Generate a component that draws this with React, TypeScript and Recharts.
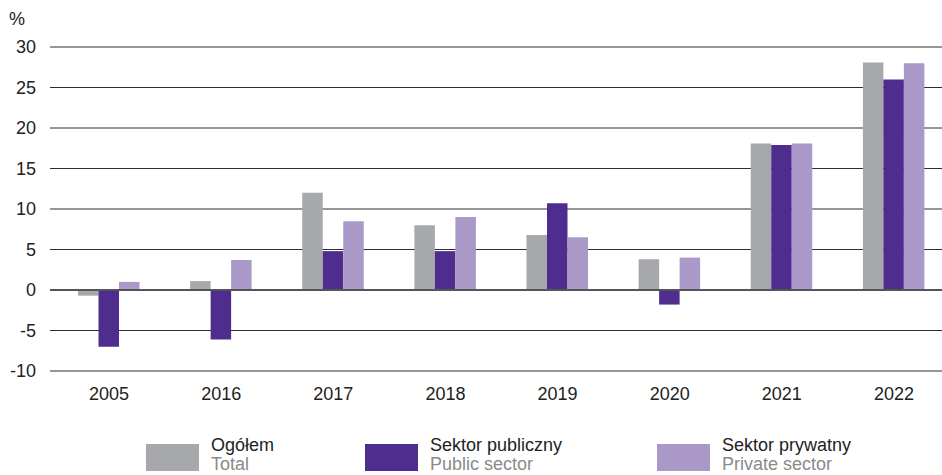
import { BarChart, Bar, XAxis, YAxis, CartesianGrid, ReferenceLine } from 'recharts';

const years = ['2005', '2016', '2017', '2018', '2019', '2020', '2021', '2022'];
const total = [-0.7, 1.1, 12.0, 8.0, 6.8, 3.8, 18.1, 28.1];
const publicSector = [-7.0, -6.1, 4.8, 4.8, 10.7, -1.8, 17.9, 26.0];
const privateSector = [1.0, 3.7, 8.5, 9.0, 6.5, 4.0, 18.1, 28.0];
const yTicks = [-10, -5, 0, 5, 10, 15, 20, 25, 30];

const legendItems = [
  { pl: 'Ogółem', en: 'Total', color: '#a7a8ab', left: 146 },
  { pl: 'Sektor publiczny', en: 'Public sector', color: '#4f2d8f', left: 365 },
  { pl: 'Sektor prywatny', en: 'Private sector', color: '#a998c8', left: 657 },
];

const data = years.map((y, i) => ({
  year: y,
  total: total[i],
  pub: publicSector[i],
  priv: privateSector[i],
}));

const font = '"Liberation Sans", Arial, sans-serif';
const tickStyle = { fontSize: 18, fill: '#222', fontFamily: font };

export default function App() {
  return (
    <div
      style={{
        position: 'absolute',
        left: 0,
        top: 0,
        width: 942,
        height: 475,
        overflow: 'hidden',
        background: '#fff',
        fontFamily: font,
      }}
    >
      <div style={{ position: 'absolute', left: 9, top: 9, fontSize: 18, color: '#222' }}>%</div>
      <BarChart
        width={950}
        height={410}
        data={data}
        margin={{ top: 47, right: 0, bottom: 0, left: 0 }}
        barGap={0}
        barSize={20.5}
      >
        <CartesianGrid vertical={false} stroke="#2e2e2e" strokeWidth={1} />
        <XAxis
          dataKey="year"
          axisLine={false}
          tickLine={false}
          tickSize={0}
          tickMargin={16}
          height={39}
          padding={{ left: 3, right: 0 }}
          tick={tickStyle}
        />
        <YAxis
          domain={[-10, 30]}
          ticks={yTicks}
          axisLine={false}
          tickLine={false}
          tickSize={0}
          tickMargin={14}
          width={50}
          tick={tickStyle}
        />
        <ReferenceLine y={0} stroke="#555" strokeWidth={2} />
        <Bar dataKey="total" fill="#a7a8ab" isAnimationActive={false} />
        <Bar dataKey="pub" fill="#4f2d8f" isAnimationActive={false} />
        <Bar dataKey="priv" fill="#a998c8" isAnimationActive={false} />
      </BarChart>
      {legendItems.map((it) => (
        <div key={it.pl} style={{ position: 'absolute', left: it.left, top: 436 }}>
          <div
            style={{
              position: 'absolute',
              left: 0,
              top: 8,
              width: 53,
              height: 27,
              background: it.color,
            }}
          />
          <div style={{ position: 'absolute', left: 65, top: 0, fontSize: 18, lineHeight: '19px', whiteSpace: 'nowrap' }}>
            <div style={{ color: '#222' }}>{it.pl}</div>
            <div style={{ color: '#8a8a8a' }}>{it.en}</div>
          </div>
        </div>
      ))}
    </div>
  );
}
